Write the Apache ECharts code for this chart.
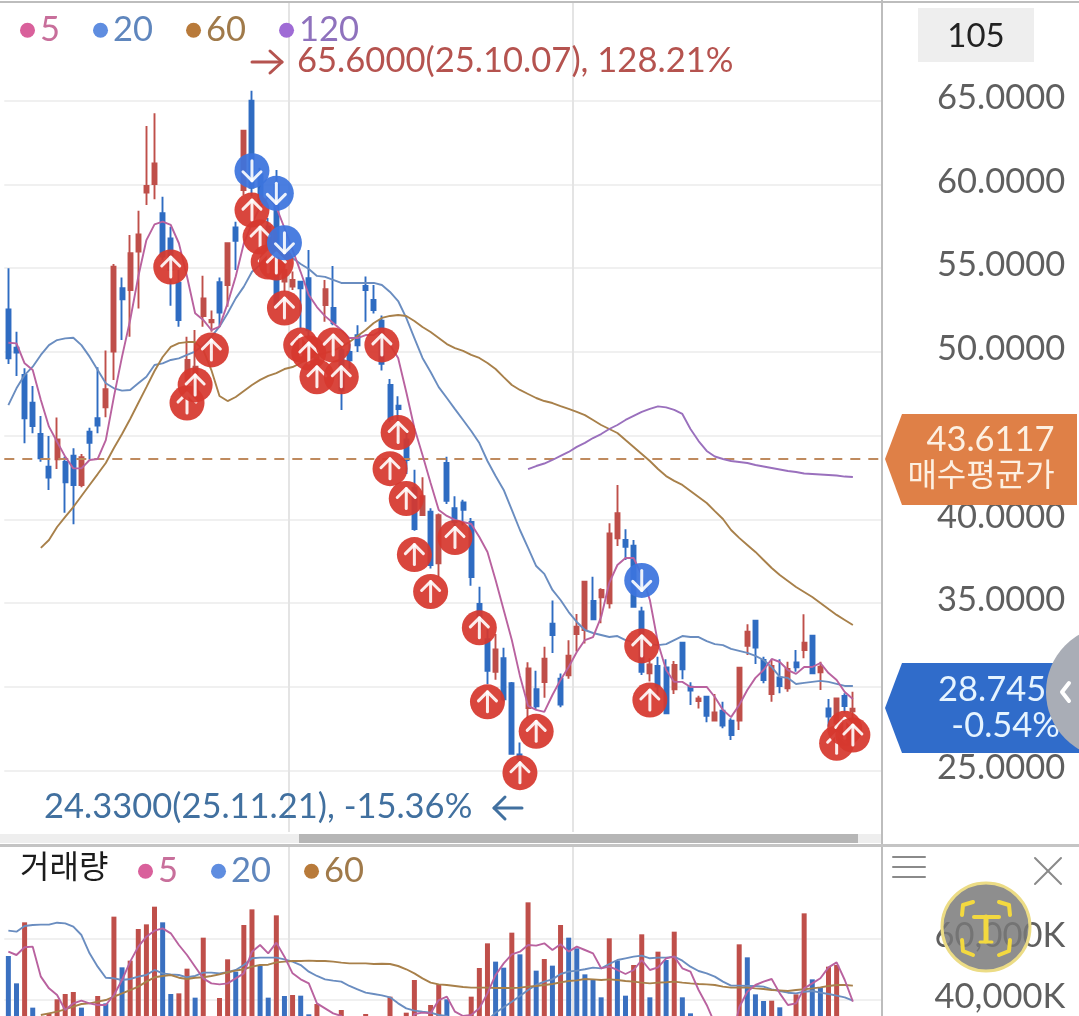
<!DOCTYPE html>
<html><head><meta charset="utf-8">
<style>html,body{margin:0;padding:0;background:#fff}#c{width:1079px;height:1016px}</style>
<script src="https://cdn.jsdelivr.net/npm/echarts@6/dist/echarts.min.js"></script>
</head><body><div id="c"></div>
<script>
const opens=[52.54,50.26,48.62,46.97,45.10,43.15,43.59,43.43,43.81,42.06,45.24,46.04,46.69,50.02,53.80,53.70,55.99,59.51,60.03,58.28,56.78,54.14,48.33,47.53,52.15,51.77,54.16,54.00,57.44,59.67,65.00,60.60,57.50,60.00,54.20,53.90,54.20,54.40,49.20,52.80,52.63,50.10,50.00,51.00,53.94,53.10,51.87,48.03,46.79,44.78,41.90,40.26,40.46,37.38,43.38,40.67,41.02,39.85,34.95,32.85,30.90,31.72,30.22,25.97,28.74,29.87,30.29,33.78,30.49,30.70,33.16,33.40,35.13,35.35,34.99,38.87,38.77,38.43,34.50,30.81,31.25,31.17,29.86,32.64,30.02,29.16,29.42,27.99,28.58,27.99,27.99,32.46,33.96,31.61,29.58,30.57,29.92,31.47,32.20,33.06,30.87,28.72,27.83,29.46,28.54];
const closes=[49.62,49.96,46.04,45.58,43.65,42.50,44.78,42.22,42.06,43.71,44.58,45.60,47.77,55.09,53.14,55.89,57.02,59.91,61.26,55.69,54.89,51.91,49.52,49.12,53.20,51.91,52.35,56.49,56.64,63.21,59.80,59.00,56.00,52.80,54.90,54.30,53.80,51.30,50.00,53.74,51.73,47.70,49.50,50.40,53.70,52.50,49.30,46.00,46.59,43.55,39.43,41.39,37.28,40.26,41.12,39.85,40.57,36.56,33.47,30.96,32.24,29.26,26.01,25.70,31.11,28.85,31.68,33.10,28.95,31.87,33.60,36.29,34.04,35.79,39.17,40.37,38.37,34.79,30.91,31.35,30.02,28.42,31.31,31.05,29.78,29.32,28.27,28.48,27.69,27.13,31.15,33.30,32.35,30.41,31.25,30.06,31.07,31.17,32.64,30.81,31.21,28.23,29.32,28.86,28.70];
const lows=[49.28,48.56,44.55,45.14,43.45,41.76,43.01,40.40,39.71,41.92,43.59,45.14,46.10,48.33,50.71,50.91,52.60,58.77,59.11,55.49,52.76,51.51,47.13,47.13,51.51,51.21,51.51,52.70,54.89,59.37,59.30,58.50,55.50,52.50,53.60,53.70,51.40,50.40,48.90,51.80,51.60,46.53,49.00,50.00,51.80,52.30,48.89,45.80,45.19,42.72,39.33,40.26,37.07,36.56,40.92,39.43,39.64,36.04,33.27,30.18,30.43,29.15,25.97,24.33,28.13,28.64,29.36,32.03,28.79,30.49,32.11,32.60,34.00,33.80,34.69,38.41,37.58,34.75,30.71,30.32,29.42,28.38,29.58,30.46,28.92,28.72,27.89,27.93,27.53,26.83,27.43,31.91,31.37,30.22,29.12,29.62,29.72,30.91,31.71,30.77,29.82,27.63,27.03,28.42,27.43];
const highs=[54.99,51.21,49.02,47.97,46.18,44.98,46.08,43.75,44.25,43.91,45.48,49.08,50.08,55.25,54.45,56.98,58.43,63.49,64.25,59.27,57.48,54.89,50.91,51.31,54.55,52.47,54.45,56.49,57.78,63.21,65.60,61.00,58.00,60.86,56.10,54.80,54.20,56.09,50.30,54.30,55.13,50.70,50.50,51.60,54.50,54.00,52.18,48.38,47.35,45.40,42.97,42.52,40.67,40.36,43.75,41.39,41.18,40.09,35.98,33.47,33.16,32.34,30.29,26.69,31.48,30.96,32.40,35.16,30.80,32.79,34.36,36.29,36.58,35.89,39.77,42.06,39.41,38.77,34.79,31.71,31.81,31.65,31.55,32.70,30.28,29.48,29.46,29.58,29.12,28.13,31.21,33.74,34.00,31.81,31.61,31.65,31.51,32.20,34.34,33.10,31.51,29.28,29.36,29.62,29.72];
const ma5=[50.55,50.51,49.32,48.92,47.13,45.54,44.64,43.75,43.05,43.05,43.55,43.61,44.74,47.33,49.72,51.91,54.5,56.68,57.62,57.78,57.58,56.49,54.5,52.31,51.91,51.31,51.51,52.9,54.5,56.49,57.68,58.67,59.27,58.65,57.4,56.09,54.77,53.4,52.68,52.14,51.73,51.31,50.83,50.83,51.01,51.01,51.31,50.42,49.64,47.61,45.46,43.85,42.18,40.57,40.21,39.97,39.85,39.73,38.95,38.06,36.39,34.6,32.8,30.66,28.87,28.63,28.51,29.52,30.42,31.19,32.09,32.8,32.98,34.18,36.21,37.28,37.7,37.7,36.68,35.19,32.62,31.01,30.3,30.3,30.0,30.0,30.0,29.4,28.62,28.2,28.92,29.82,30.54,31.01,31.67,31.49,31.01,30.78,31.19,31.19,31.43,30.83,30.42,29.7,29.28];
const ma20=[46.83,47.83,48.62,49.12,49.82,50.41,50.71,50.81,50.85,50.41,49.72,48.92,48.13,47.83,47.69,47.73,48.13,48.52,49.22,49.32,49.52,49.62,49.82,50.02,50.41,50.91,51.51,52.31,53.2,53.9,54.79,55.19,55.61,55.79,55.85,55.61,55.25,54.95,54.54,54.48,54.3,54.12,54.12,54.12,54.12,54.12,54.0,53.58,53.04,52.03,50.83,49.64,48.8,47.9,47.25,46.59,45.94,45.28,44.56,43.49,42.59,41.76,40.57,39.37,38.3,37.22,36.75,35.79,35.19,34.47,33.88,33.4,33.22,33.1,32.98,33.04,32.8,32.68,32.62,32.56,32.5,32.56,32.8,33.04,32.98,32.98,32.74,32.56,32.5,32.27,32.15,32.03,31.85,31.61,31.19,30.6,30.54,30.18,30.24,30.3,30.36,30.3,30.18,30.06,30.06];
const ma60=[null,null,null,null,38.3,38.77,39.55,40.15,40.74,41.4,42.06,42.71,43.37,44.27,45.1,46.0,46.95,47.9,48.86,49.7,50.3,50.53,50.59,50.59,50.12,48.92,47.37,47.07,47.31,47.67,48.03,48.33,48.57,48.74,48.98,49.1,49.34,49.64,49.76,49.94,50.06,50.3,50.59,50.95,51.31,51.73,52.03,52.15,52.21,52.15,51.85,51.49,51.19,50.83,50.47,50.23,50.06,49.82,49.64,49.34,48.98,48.5,48.03,47.73,47.49,47.25,47.07,46.95,46.77,46.6,46.42,46.23,45.94,45.64,45.4,45.16,44.74,44.33,43.91,43.49,43.01,42.59,42.3,42.06,41.7,41.34,40.98,40.5,40.03,39.37,38.9,38.48,38.06,37.58,37.1,36.68,36.33,35.97,35.67,35.37,35.01,34.65,34.3,34.0,33.7];
const ma120=[null,null,null,null,null,null,null,null,null,null,null,null,null,null,null,null,null,null,null,null,null,null,null,null,null,null,null,null,null,null,null,null,null,null,null,null,null,null,null,null,null,null,null,null,null,null,null,null,null,null,null,null,null,null,null,null,null,null,null,null,null,null,null,null,43.01,43.19,43.34,43.55,43.79,44.03,44.33,44.57,44.86,45.1,45.4,45.64,45.94,46.18,46.42,46.6,46.75,46.69,46.54,46.3,45.4,44.68,44.09,43.76,43.61,43.49,43.43,43.37,43.25,43.16,43.07,42.98,42.89,42.83,42.74,42.71,42.68,42.65,42.62,42.56,42.53];
const volumes=[54400,45330,65570,37270,28000,35380,40030,41790,42460,37270,30000,41130,38700,67450,50640,52860,63350,64900,70760,65570,41790,42010,50200,40580,60480,32000,40470,53300,49200,64680,69870,51080,40580,67890,41130,41460,41240,35050,38480,28000,30000,36490,26000,24000,35160,22000,26000,40910,30000,35600,46440,30000,38150,45110,40030,28000,26000,40910,50420,58600,52530,50530,62140,54950,72200,49540,53400,51200,64680,60480,56940,48310,46440,40690,60260,52860,41240,51410,61590,40690,55840,53070,62470,40690,35380,30000,26000,24000,22000,25000,58270,53960,41680,39470,39580,37380,30000,41680,68550,46660,44010,50860,51410,30000,30000];
const volumeSides=['b','b','r','b','b','r','r','r','r','b','b','r','b','r','b','r','r','r','r','b','b','r','r','b','r','b','r','r','b','r','r','b','b','r','b','r','b','b','r','b','b','r','b','b','r','b','b','r','b','r','r','b','r','r','b','b','b','r','r','r','b','b','r','b','r','b','r','b','r','b','b','b','b','b','r','b','b','r','r','b','r','b','r','b','b','b','b','b','b','b','r','b','b','b','r','b','b','r','r','b','b','r','r','b','b'];
const volMa5=[55840,54730,57280,57500,47550,43670,41460,36490,38700,39590,38700,38150,38150,41460,46440,52530,57500,60810,62800,63570,61920,58050,54730,50860,46990,45330,45000,45330,46990,48650,55840,58050,55280,58830,54180,48650,46660,45330,38700,37040,35380,34500,30000,28000,26000,24000,22000,23000,25000,28000,35160,35600,35380,39800,40910,35930,34500,34830,37040,42010,48100,51960,54950,55840,58050,57830,58600,56390,58270,55840,57500,56390,55280,50310,50860,49760,48430,49760,53070,49760,50640,53630,54180,50310,49200,43120,38150,32000,27000,25000,37380,42560,44780,45880,46770,42010,38150,38700,43670,45330,47000,50640,52300,46440,39250];
const volMa20=[62800,62470,64350,64680,64790,64790,65450,65230,64130,61360,55280,50860,47200,47000,46440,46770,47550,48100,49760,48650,48320,48100,47330,47770,48870,48870,48650,49000,49760,51410,53630,53850,53850,53850,53300,52530,51410,49200,47770,46660,46220,45890,44450,43350,42230,41790,41350,40690,38700,37040,36270,35930,35600,34830,34500,33000,32000,31500,32000,33000,35600,37380,39250,41130,43120,44780,45890,46660,48430,49200,49540,50000,50530,50310,51740,53070,53630,54180,54510,53630,53850,53850,54180,52860,50860,49430,48650,47550,45890,44560,44560,44450,44450,44230,43350,42790,42230,42010,42560,42790,42230,41790,41240,40690,39580];
const volMa60=[null,null,null,null,34830,35380,35930,36710,37600,38480,38700,39250,39800,40910,42010,43120,44230,45890,47330,47770,48100,47200,46770,47200,47330,47770,48320,49000,49540,50000,50860,51410,51520,52300,52530,52740,52740,52860,52740,52740,52530,52190,51960,51960,51960,51740,51850,51740,51080,50000,48650,46990,45560,45000,44780,44450,44120,43900,43900,43900,43790,43790,43790,43900,44230,44450,44780,45110,45670,46110,46330,46770,46660,46440,46660,46440,46110,45890,45560,45330,45560,45670,45890,45560,45330,45110,45000,44780,44230,43900,43900,43900,43670,43450,43120,43000,42790,43120,43350,43670,44010,44450,44780,44780,44560];
const priceTicks=[25,30,35,40,45,50,55,60,65];
const volumeTicks=[40000,60000];
const avgPrice=43.6117;
const upMarkIdx=[20,22,23,25,30,31,32,33,34,36,37,38,40,41,46,47,48,49,50,52,55,58,59,63,65,78,79,102,103,104];
const upMarkVal=[55.07,46.95,48.03,50.12,58.47,56.86,55.37,55.31,52.62,50.41,49.94,48.52,50.41,48.52,50.42,43.03,45.19,41.25,37.9,35.7,38.92,33.53,29.11,24.88,27.35,32.45,29.22,26.64,27.53,27.13];
const downMarkIdx=[30,33,34,78];
const downMarkVal=[60.82,59.47,56.52,36.36];
const candleCount=105, axisSlots=108;
const categories=Array.from({length:axisSlots},(_,i)=>String(i+1));
const RED='#bf4f4a',BLUE='#2f6cc2',PINK='#b9629f',SKY='#6a8dc0',BRN='#a8804a',VIO='#9a70bd';
const F='Lato,"Noto Sans CJK KR",sans-serif';
const candle=opens.map((o,i)=>[o,closes[i],lows[i],highs[i]]);
const marks=upMarkIdx.map((x,i)=>[x,upMarkVal[i],1]).concat(downMarkIdx.map((x,i)=>[x,downMarkVal[i],0]));
const line=(name,data,color,ax,z)=>({name,type:'line',data,xAxisIndex:ax,yAxisIndex:ax,showSymbol:false,symbol:'none',smooth:false,connectNulls:false,silent:true,lineStyle:{color,width:1.9},z:z||4,animation:false});
const vGrid={interval:(i)=>i===35||i===70,show:true,lineStyle:{color:'#e4e4e4',width:2}};
const xAx=(g)=>({type:'category',gridIndex:g,data:categories,boundaryGap:true,axisLine:{show:false},axisTick:{show:false},axisLabel:{show:false},splitLine:vGrid});
const chart=echarts.init(document.getElementById('c'));
const lg=(left,top,items)=>({left,top,itemGap:33,itemWidth:15,itemHeight:15,selectedMode:false,orient:'horizontal',
  data:items.map(d=>({name:d[0],icon:'circle',itemStyle:{color:d[1]},textStyle:{color:d[2],fontSize:34.5,fontFamily:F}})),
  formatter:n=>n.replace('V',''),textStyle:{fontSize:34.5,fontFamily:F}});
const gText=(x,y,text,color,size,align,extra)=>Object.assign({type:'text',z:100,style:{x,y,text,fill:color,fontSize:size,fontFamily:F,align:align||'left',verticalAlign:'middle'}},extra||{});
const seg=(pts,color,w)=>({type:'polyline',z:100,shape:{points:pts},style:{stroke:color,lineWidth:w,fill:null,lineCap:'round',lineJoin:'round'}});
chart.setOption({
  animation:false,backgroundColor:'#fff',
  grid:[{left:4.3,top:2,width:877,height:830},{left:4.3,top:847,width:877,height:169}],
  legend:[
    lg(15,8,[['5','#d9609b','#c86f9b'],['20','#5f8de0','#5f86bd'],['60','#b87a3a','#a07a4a'],['120','#9f6bd5','#8f72bd']]),
    lg(133,849,[['V5','#d9609b','#c86f9b'],['V20','#5f8de0','#5f86bd'],['V60','#b87a3a','#a07a4a']])
  ],
  xAxis:[xAx(0),xAx(1)],
  yAxis:[
    {type:'value',gridIndex:0,position:'right',min:21.34,max:70.893,scale:true,axisLine:{show:false},
     axisTick:{show:false,customValues:priceTicks},
     axisLabel:{customValues:priceTicks,align:'right',margin:184,fontSize:34.5,color:'#5f5f5f',fontFamily:F,verticalAlign:'bottom',lineHeight:6,formatter:v=>v.toFixed(4)},
     splitLine:{show:true,lineStyle:{color:'#f0f0f0',width:2}}},
    {type:'value',gridIndex:1,position:'right',min:34497,max:90554,axisLine:{show:false},
     axisTick:{show:false,customValues:volumeTicks},
     axisLabel:{customValues:volumeTicks,align:'right',margin:184,fontSize:34.5,color:'#5f5f5f',fontFamily:F,verticalAlign:'bottom',lineHeight:6,formatter:v=>v.toLocaleString('en-US')+'K'},
     splitLine:{show:true,lineStyle:{color:'#f0f0f0',width:2}}}
  ],
  series:[
    {type:'candlestick',xAxisIndex:0,yAxisIndex:0,data:candle,barWidth:4.5,silent:true,z:2,
     itemStyle:{color:RED,color0:BLUE,borderColor:RED,borderColor0:BLUE,borderWidth:1.9},
     markLine:{silent:true,symbol:'none',animation:false,label:{show:false},lineStyle:{color:'#bf8a5e',type:[10,8],width:2},data:[{yAxis:avgPrice}],z:3}},
    line('5',ma5,PINK,0,5),line('20',ma20,SKY,0,4),line('60',ma60,BRN,0,4),line('120',ma120,VIO,0,4),
    {type:'custom',xAxisIndex:0,yAxisIndex:0,data:marks,silent:true,z:10,encode:{x:0,y:1},clip:false,
     renderItem:(p,api)=>{
       const c=api.coord([api.value(0),api.value(1)]),up=api.value(2)===1,s=up?1:-1;
       const st={stroke:'rgba(255,255,255,.9)',lineWidth:3,fill:null,lineCap:'round',lineJoin:'round'};
       return {type:'group',x:c[0],y:c[1],children:[
         {type:'circle',shape:{cx:0,cy:0,r:17.5},style:{fill:up?'rgba(214,56,46,.93)':'rgba(60,116,222,.93)'}},
         {type:'polyline',shape:{points:[[0,10*s],[0,-10*s]]},style:st},
         {type:'polyline',shape:{points:[[-9,-1*s],[0,-10*s],[9,-1*s]]},style:st}]};
     }},
    {type:'bar',name:'volume',xAxisIndex:1,yAxisIndex:1,barWidth:5,silent:true,z:2,
     data:volumes.map((v,i)=>({value:v,itemStyle:{color:volumeSides[i]==='r'?RED:'#3a70c0'}}))},
    line('V5',volMa5,PINK,1,5),line('V20',volMa20,SKY,1,4),line('V60',volMa60,BRN,1,4)
  ],
  graphic:{elements:[
    {type:'rect',z:50,shape:{x:0,y:1,width:1079,height:2},style:{fill:'#bdbdbd'}},
    {type:'rect',z:50,shape:{x:881,y:0,width:2,height:1016},style:{fill:'#bdbdbd'}},
    {type:'rect',z:50,shape:{x:0,y:834,width:881,height:9},style:{fill:'#eeeeee'}},
    {type:'rect',z:51,shape:{x:299,y:834,width:559,height:9},style:{fill:'#b6b6b6'}},
    {type:'rect',z:52,shape:{x:0,y:844,width:1079,height:3},style:{fill:'#c4c4c4'}},
    {type:'rect',z:60,shape:{x:918,y:8,width:116,height:54},style:{fill:'#eeeeee'}},
    gText(976,36,'105','#222',33,'center'),
    seg([[252,62],[282,62]],'#b5534f',3),seg([[270,51],[282,62],[270,73]],'#b5534f',3),
    gText(297,61,'65.6000(25.10.07), 128.21%','#b5534f',34.6),
    gText(44,807,'24.3300(25.11.21), -15.36%','#41709f',34.5),
    seg([[494,808],[522,808]],'#41709f',3),seg([[505,797],[494,808],[505,819]],'#41709f',3),
    {type:'polygon',z:90,shape:{points:[[885,459],[902,414],[1077,414],[1077,505],[902,505]]},style:{fill:'#df8047'}},
    gText(990.5,440,'43.6117','#fdf0e2',34.5,'center'),
    gText(981,476,'매수평균가','#fdf0e2',32,'center'),
    {type:'polygon',z:90,shape:{points:[[885,708],[902,663],[1079,663],[1079,753],[902,753]]},style:{fill:'#306cca'}},
    gText(938,690,'28.7450','#e6f4ff',34.5),
    gText(1060,726,'-0.54%','#e6f4ff',34.5,'right'),
    {type:'circle',z:110,shape:{cx:1112,cy:692,r:66},style:{fill:'#a9adb6'}},
    Object.assign(seg([[1069,683],[1062,692],[1069,701]],'#fff',4),{z:111}),
    seg([[893,857],[925,857]],'#8a8a8a',2),seg([[893,867],[925,867]],'#8a8a8a',2),seg([[893,877],[925,877]],'#8a8a8a',2),
    seg([[1035,858],[1061,884]],'#8a8a8a',2),seg([[1061,858],[1035,884]],'#8a8a8a',2),
    gText(20,868,'거래량','#1c1c1c',32,'left',{}),
    {type:'ellipse',z:120,shape:{cx:986,cy:927,rx:44,ry:44},style:{fill:'rgba(120,120,120,.84)',stroke:'#ecdc85',lineWidth:3}},
    ...[[[962,915],[963,905],[973,902]],[[1010,915],[1009,905],[999,902]],[[962,940],[963,951],[973,955]],[[1010,940],[1009,951],[999,955]]].map(p=>Object.assign(seg(p,'#f3d93f',4),{z:121})),
    Object.assign(seg([[974,917],[999,917]],'#f3d93f',4),{z:121}),
    Object.assign(seg([[986,917],[986,941]],'#f3d93f',5),{z:121}),
    Object.assign(seg([[980,942],[992,942]],'#f3d93f',3),{z:121})
  ]}
});
</script></body></html>
